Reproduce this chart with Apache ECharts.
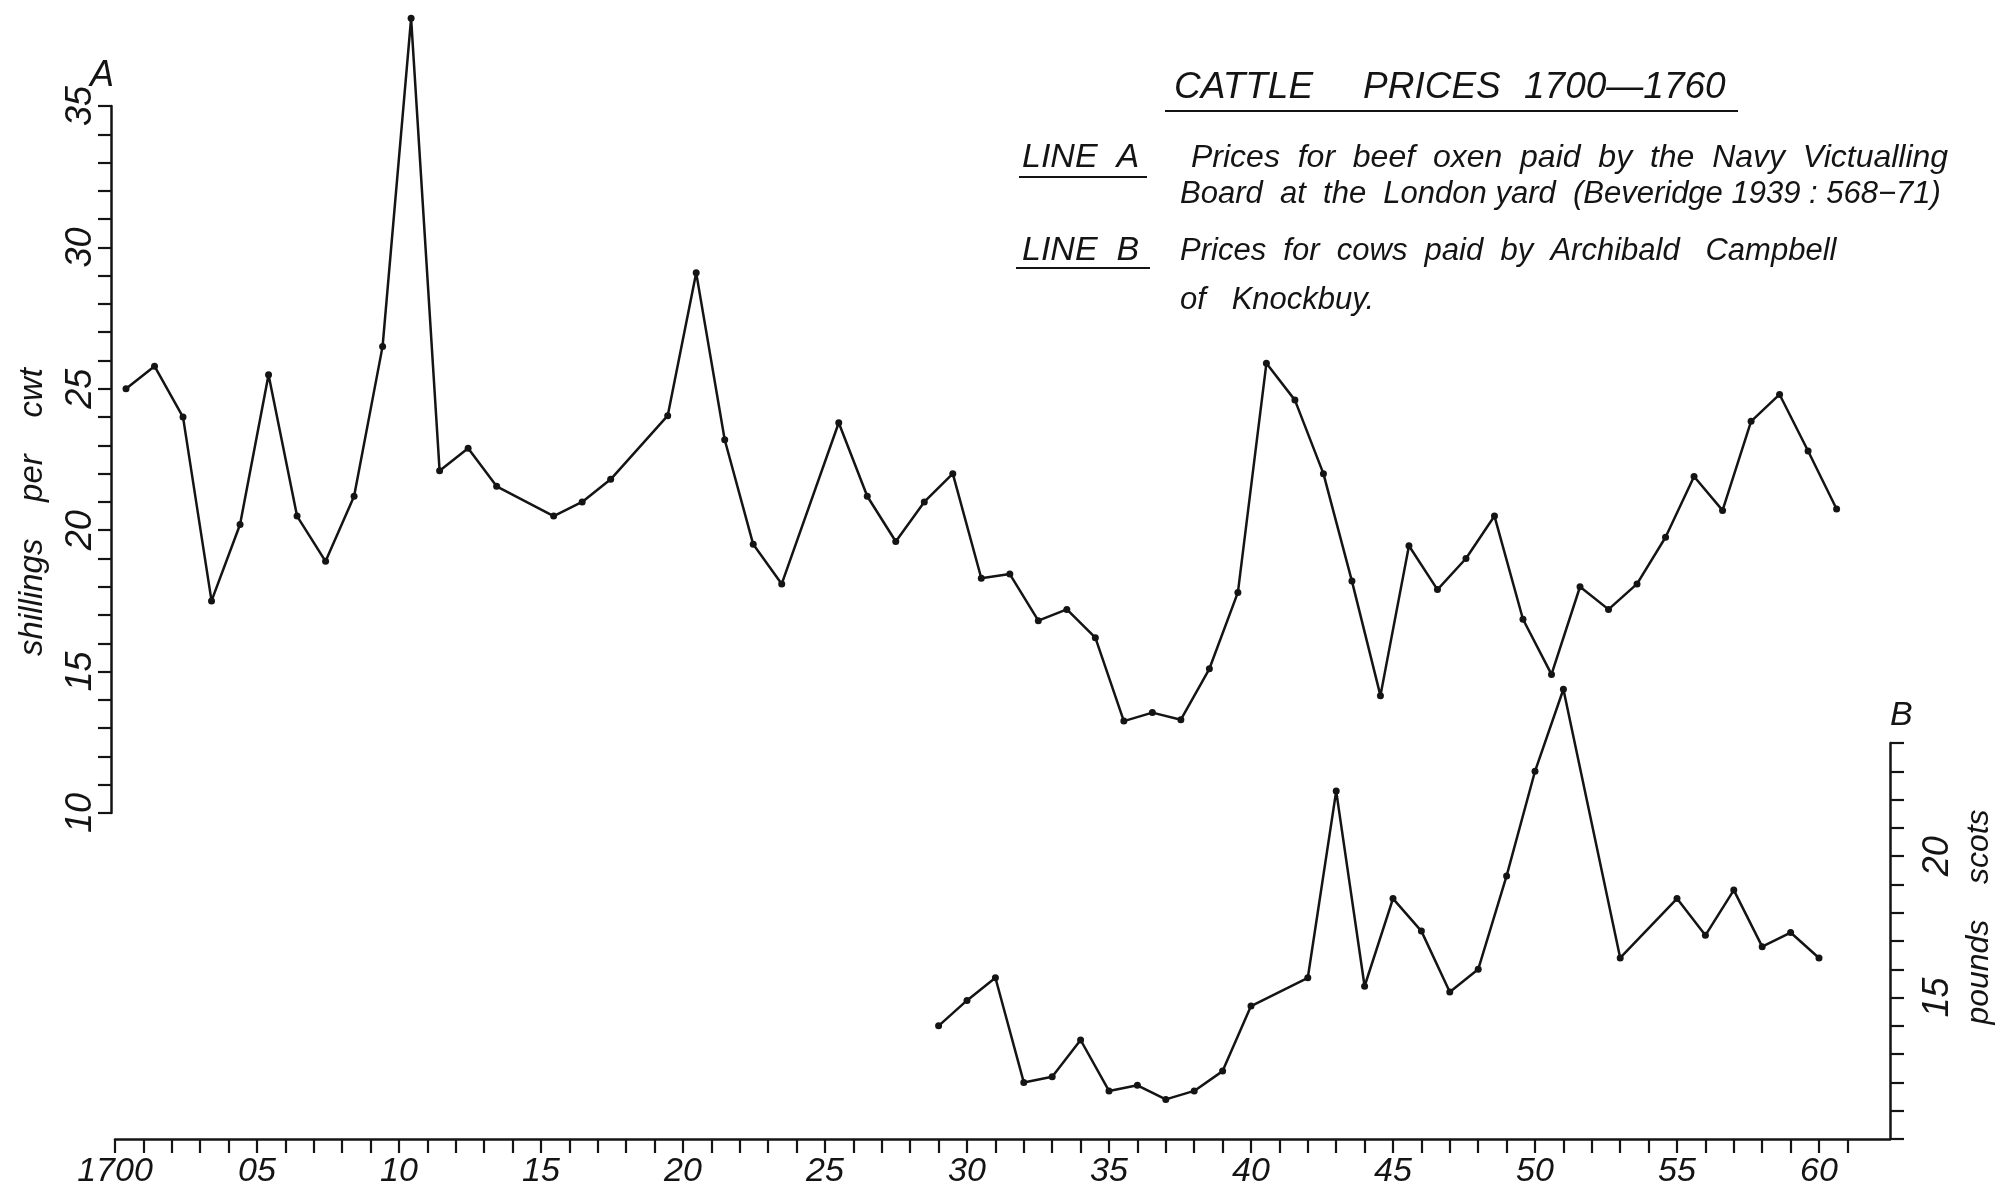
<!DOCTYPE html>
<html>
<head>
<meta charset="utf-8">
<title>Cattle prices 1700–1760</title>
<script src="https://cdn.jsdelivr.net/npm/echarts@6/dist/echarts.min.js"></script>
<style>
  html, body { margin: 0; padding: 0; background: #ffffff; }
  #chart { width: 1996px; height: 1200px; }
</style>
</head>
<body>
<div id="chart"></div>
<script>
// Line A: beef oxen, Navy Victualling Board, London yard (shillings per cwt)
const yearsA = [1700, 1701, 1702, 1703, 1704, 1705, 1706, 1707, 1708, 1709, 1710, 1711, 1712, 1713,
  1715, 1716, 1717, 1719, 1720, 1721, 1722, 1723,
  1725, 1726, 1727, 1728, 1729, 1730, 1731, 1732, 1733, 1734, 1735, 1736, 1737, 1738, 1739,
  1740, 1741, 1742, 1743, 1744, 1745, 1746, 1747, 1748, 1749, 1750, 1751, 1752, 1753, 1754,
  1755, 1756, 1757, 1758, 1759, 1760];
const pricesA = [25.0, 25.8, 24.0, 17.5, 20.2, 25.5, 20.5, 18.9, 21.2, 26.5, 38.1, 22.1, 22.9, 21.55,
  20.5, 21.0, 21.8, 24.05, 29.1, 23.2, 19.5, 18.1,
  23.8, 21.2, 19.6, 21.0, 22.0, 18.3, 18.45, 16.8, 17.2, 16.2, 13.25, 13.55, 13.3, 15.1, 17.8,
  25.9, 24.6, 22.0, 18.2, 14.15, 19.45, 17.9, 19.0, 20.5, 16.85, 14.9, 18.0, 17.2, 18.1, 19.75,
  21.9, 20.7, 23.85, 24.8, 22.8, 20.75];

// Line B: cows bought by Archibald Campbell of Knockbuy (pounds scots)
const yearsB = [1729, 1730, 1731, 1732, 1733, 1734, 1735, 1736, 1737, 1738, 1739, 1740,
  1742, 1743, 1744, 1745, 1746, 1747, 1748, 1749, 1750, 1751,
  1753, 1755, 1756, 1757, 1758, 1759, 1760];
const pricesB = [14.0, 14.9, 15.7, 12.0, 12.2, 13.5, 11.7, 11.9, 11.4, 11.7, 12.4, 14.7,
  15.7, 22.3, 15.4, 18.5, 17.35, 15.2, 16.0, 19.3, 23.0, 25.9,
  16.4, 18.5, 17.2, 18.8, 16.8, 17.3, 16.4];

// Axis ticks and labels
const xLabelYears = [1700, 1705, 1710, 1715, 1720, 1725, 1730, 1735, 1740, 1745, 1750, 1755, 1760];
const xLabelText = ['1700', '05', '10', '15', '20', '25', '30', '35', '40', '45', '50', '55', '60'];
const leftLabelValues = [10, 15, 20, 25, 30, 35];
const rightLabelValues = [15, 20];
const xTickYears = [];
for (let y = 1700; y <= 1761; y++) xTickYears.push(y);

const FONT = "'Liberation Sans', 'DejaVu Sans', sans-serif";
const INK = '#141414';

const chart = echarts.init(document.getElementById('chart'), null, { renderer: 'canvas' });

const axisLineStyle = { lineStyle: { color: INK, width: 2.5 } };
const tickStyle = { lineStyle: { color: INK, width: 2.2 } };
const labelStyle = { color: INK, fontFamily: FONT, fontStyle: 'italic' };

function txt(text, x, y, size, opts) {
  return Object.assign({
    type: 'text', x: x, y: y, silent: true,
    style: {
      text: text, fill: INK, fontFamily: FONT, fontStyle: 'italic', fontSize: size,
      align: 'left', verticalAlign: 'middle'
    }
  }, opts || {});
}
function rotatedTxt(text, x, y, size) {
  return {
    type: 'text', x: x, y: y, silent: true, rotation: Math.PI / 2,
    style: {
      text: text, fill: INK, fontFamily: FONT, fontStyle: 'italic', fontSize: size,
      align: 'center', verticalAlign: 'middle'
    }
  };
}
function rule(x1, x2, y) {
  return { type: 'line', silent: true, shape: { x1: x1, y1: y, x2: x2, y2: y },
           style: { stroke: INK, lineWidth: 2 } };
}

const option = {
  backgroundColor: '#ffffff',
  animation: false,
  grid: [
    { left: 115, right: 106, top: 106, height: 707 },
    { left: 115, right: 106, top: 743, bottom: 61 }
  ],
  xAxis: [
    { // plotting scale for line A (points sit a little after the year tick)
      gridIndex: 0, type: 'value', min: 1699.614, max: 1761.873, show: false
    },
    {
      gridIndex: 1, type: 'value', min: 1700, max: 1762.5, interval: 1,
      axisLine: axisLineStyle,
      axisTick: Object.assign({ length: 14, customValues: xTickYears }, tickStyle),
      splitLine: { show: false },
      axisLabel: Object.assign({
        fontSize: 34, margin: 16, customValues: xLabelYears,
        formatter: v => { const i = xLabelYears.indexOf(v); return i >= 0 ? xLabelText[i] : ''; }
      }, labelStyle)
    }
  ],
  yAxis: [
    {
      gridIndex: 0, type: 'value', position: 'left', offset: 4,
      min: 10, max: 35, interval: 1,
      name: 'A', nameLocation: 'end', nameGap: 12, nameMoveOverlap: false,
      nameTextStyle: { color: INK, fontFamily: FONT, fontStyle: 'italic', fontSize: 36, align: 'right',
                       padding: [0, -3, 0, 0] },
      axisLine: Object.assign({ show: true }, axisLineStyle),
      axisTick: Object.assign({ show: true, length: 13 }, tickStyle),
      splitLine: { show: false },
      axisLabel: Object.assign({
        fontSize: 36, rotate: 90, margin: 12, customValues: leftLabelValues
      }, labelStyle)
    },
    {
      gridIndex: 1, type: 'value', position: 'right',
      min: 10, max: 24, interval: 1,
      name: 'B', nameLocation: 'end', nameGap: 10, nameMoveOverlap: false,
      nameTextStyle: { color: INK, fontFamily: FONT, fontStyle: 'italic', fontSize: 34, align: 'left' },
      axisLine: Object.assign({ show: true }, axisLineStyle),
      axisTick: Object.assign({ show: true, length: 14 }, tickStyle),
      splitLine: { show: false },
      axisLabel: Object.assign({
        fontSize: 36, rotate: 90, margin: 30, customValues: rightLabelValues
      }, labelStyle)
    }
  ],
  series: [
    {
      name: 'LINE A', type: 'line', xAxisIndex: 0, yAxisIndex: 0, clip: false,
      data: yearsA.map((y, i) => [y, pricesA[i]]),
      symbol: 'circle', symbolSize: 7, showAllSymbol: true,
      lineStyle: { color: INK, width: 2.5 }, itemStyle: { color: INK }
    },
    {
      name: 'LINE B', type: 'line', xAxisIndex: 1, yAxisIndex: 1, clip: false,
      data: yearsB.map((y, i) => [y, pricesB[i]]),
      symbol: 'circle', symbolSize: 7, showAllSymbol: true,
      lineStyle: { color: INK, width: 2.5 }, itemStyle: { color: INK }
    }
  ],
  graphic: [
    // heading
    txt('CATTLE', 1174, 88, 37),
    txt('PRICES', 1363, 88, 37),
    txt('1700—1760', 1524, 88, 37),
    rule(1165, 1738, 111),
    // key
    txt('LINE  A', 1022, 158, 34),
    rule(1019, 1147, 177),
    txt('Prices  for  beef  oxen  paid  by  the  Navy  Victualling', 1191, 158, 32),
    txt('Board  at  the  London yard  (Beveridge 1939 : 568−71)', 1180, 194, 31),
    txt('LINE  B', 1022, 251, 34),
    rule(1016, 1150, 268),
    txt('Prices  for  cows  paid  by  Archibald   Campbell', 1180, 251, 31),
    txt('of   Knockbuy.', 1180, 300, 31),
    // axis titles
    rotatedTxt('shillings    per    cwt', 33, 512, 33),
    rotatedTxt('pounds    scots', 1979, 917, 32)
  ]
};

chart.setOption(option);
</script>
</body>
</html>
